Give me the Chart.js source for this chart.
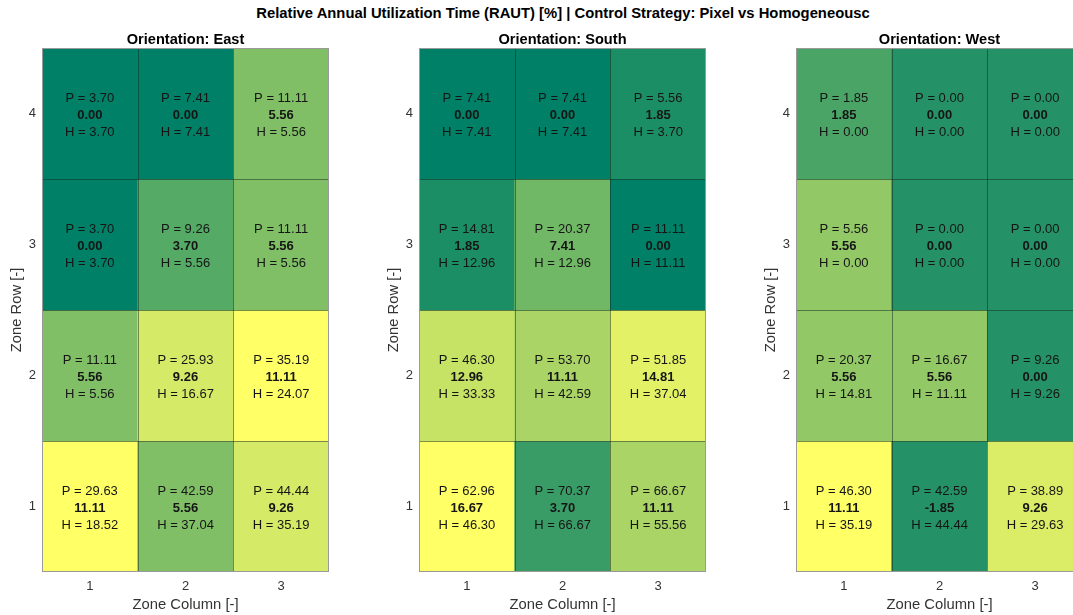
<!DOCTYPE html>
<html>
<head>
<meta charset="utf-8">
<script src="https://cdn.jsdelivr.net/npm/chart.js@4.4.1/dist/chart.umd.min.js"></script>
<style>
  html, body { margin: 0; padding: 0; background: #fff; overflow: hidden; width: 1073px; height: 615px; }
  #title { position: absolute; left: 0; top: 5px; width: 1126px; text-align: center;
           font: bold 14.8px "Liberation Sans", Arial, sans-serif; line-height: 17px; color: #000; }
  .panel { position: absolute; top: 0; }
</style>
</head>
<body>
<div id="title">Relative Annual Utilization Time (RAUT) [%] | Control Strategy: Pixel vs Homogeneousc</div>
<canvas id="panelEast" class="panel" style="left:0px" width="340" height="615"></canvas>
<canvas id="panelSouth" class="panel" style="left:377px" width="340" height="615"></canvas>
<canvas id="panelWest" class="panel" style="left:754px" width="340" height="615"></canvas>
<script>
// Zone grid: columns 1..3, rows listed top (4) to bottom (1)
const zoneColumns = ['1', '2', '3'];
const zoneRows = [4, 3, 2, 1];
const orientations = ['East', 'South', 'West'];

// RAUT [%] with pixel control (P), homogeneous control (H) and their difference
const eastP = [[3.70, 7.41, 11.11], [3.70, 9.26, 11.11], [11.11, 25.93, 35.19], [29.63, 42.59, 44.44]];
const eastD = [[0.00, 0.00, 5.56], [0.00, 3.70, 5.56], [5.56, 9.26, 11.11], [11.11, 5.56, 9.26]];
const eastH = [[3.70, 7.41, 5.56], [3.70, 5.56, 5.56], [5.56, 16.67, 24.07], [18.52, 37.04, 35.19]];

const southP = [[7.41, 7.41, 5.56], [14.81, 20.37, 11.11], [46.30, 53.70, 51.85], [62.96, 70.37, 66.67]];
const southD = [[0.00, 0.00, 1.85], [1.85, 7.41, 0.00], [12.96, 11.11, 14.81], [16.67, 3.70, 11.11]];
const southH = [[7.41, 7.41, 3.70], [12.96, 12.96, 11.11], [33.33, 42.59, 37.04], [46.30, 66.67, 55.56]];

const westP = [[1.85, 0.00, 0.00], [5.56, 0.00, 0.00], [20.37, 16.67, 9.26], [46.30, 42.59, 38.89]];
const westD = [[1.85, 0.00, 0.00], [5.56, 0.00, 0.00], [5.56, 5.56, 0.00], [11.11, -1.85, 9.26]];
const westH = [[0.00, 0.00, 0.00], [0.00, 0.00, 0.00], [14.81, 11.11, 9.26], [35.19, 44.44, 29.63]];

const panelData = {
  East: { P: eastP, D: eastD, H: eastH },
  South: { P: southP, D: southD, H: southH },
  West: { P: westP, D: westD, H: westH }
};

const FONT = '"Liberation Sans", Arial, Helvetica, sans-serif';

// "summer" colormap: dark green -> yellow
function summer(t) {
  t = Math.max(0, Math.min(1, t));
  return `rgb(${Math.round(255 * t)},${Math.round(255 * (0.5 + 0.5 * t))},102)`;
}

function cellColours(D) {
  const flat = D.flat();
  const lo = Math.min(...flat), hi = Math.max(...flat);
  return D.map(row => row.map(v => summer((Math.max(v, 0) - lo) / (hi - lo))));
}

// Draws cell separators, the axes box and the three-line cell annotations
const cellAnnotations = {
  id: 'cellAnnotations',
  afterDatasetsDraw(chart, args, opts) {
    const { ctx, chartArea: a, scales: { x, y } } = chart;
    const d = opts.data;
    ctx.save();
    // separators between cells
    ctx.strokeStyle = 'rgba(20,40,30,0.5)';
    ctx.lineWidth = 1;
    ctx.beginPath();
    for (let j = 0; j < zoneColumns.length - 1; j++) {
      const px = Math.round((x.getPixelForValue(j) + x.getPixelForValue(j + 1)) / 2) + 0.5;
      ctx.moveTo(px, a.top); ctx.lineTo(px, a.bottom);
    }
    for (let r = 1; r < zoneRows.length; r++) {
      const py = Math.round(y.getPixelForValue(r + 0.5)) + 0.5;
      ctx.moveTo(a.left, py); ctx.lineTo(a.right, py);
    }
    ctx.stroke();
    // axes box
    ctx.strokeStyle = '#9a9a9a';
    ctx.strokeRect(Math.round(a.left) + 0.5, Math.round(a.top) + 0.5,
                   Math.round(a.right - a.left) - 1, Math.round(a.bottom - a.top) - 1);
    // annotations
    ctx.fillStyle = '#151515';
    ctx.textAlign = 'center';
    ctx.textBaseline = 'middle';
    zoneRows.forEach((row, i) => {
      zoneColumns.forEach((col, j) => {
        const cx = x.getPixelForValue(j);
        const cy = y.getPixelForValue(row) + 2;
        ctx.font = `13px ${FONT}`;
        ctx.fillText(`P = ${d.P[i][j].toFixed(2)}`, cx, cy - 17);
        ctx.font = `bold 13px ${FONT}`;
        ctx.fillText(d.D[i][j].toFixed(2), cx, cy);
        ctx.font = `13px ${FONT}`;
        ctx.fillText(`H = ${d.H[i][j].toFixed(2)}`, cx, cy + 17);
      });
    });
    ctx.restore();
  }
};

function buildPanel(canvasId, orientation) {
  const d = panelData[orientation];
  const colours = cellColours(d.D);
  const datasets = zoneRows.map((row, i) => ({
    label: `Row ${row}`,
    data: zoneColumns.map(() => [row - 0.5, row + 0.5]),
    backgroundColor: colours[i],
    borderWidth: 0,
    grouped: false,
    categoryPercentage: 1,
    barPercentage: 1
  }));

  return new Chart(document.getElementById(canvasId), {
    type: 'bar',
    data: { labels: zoneColumns, datasets },
    plugins: [cellAnnotations],
    options: {
      responsive: false,
      devicePixelRatio: 1,
      animation: false,
      events: [],
      layout: { padding: { top: 32.7, right: 11, left: 0, bottom: 0 } },
      plugins: {
        legend: { display: false },
        tooltip: { enabled: false },
        title: {
          display: true,
          text: `Orientation: ${orientation}`,
          fullSize: false,
          color: '#000',
          font: { family: FONT, size: 14.6, weight: 'bold', lineHeight: 1.0 },
          padding: { top: 0, bottom: 0.7 }
        },
        cellAnnotations: { data: d }
      },
      scales: {
        x: {
          type: 'category',
          offset: true,
          grid: { display: false, drawTicks: false },
          border: { display: false },
          ticks: { color: '#333', padding: 7, font: { family: FONT, size: 13 } },
          title: {
            display: true,
            text: 'Zone Column [-]',
            color: '#333',
            font: { family: FONT, size: 14.8, lineHeight: 1.2 },
            padding: { top: 0, bottom: 1.2 }
          },
          afterFit(scale) { scale.height = 43; }
        },
        y: {
          type: 'linear',
          min: 0.5,
          max: 4.5,
          grid: { display: false, drawTicks: false },
          border: { display: false },
          ticks: { color: '#333', padding: 6, font: { family: FONT, size: 13 } },
          afterBuildTicks(scale) { scale.ticks = zoneRows.map(v => ({ value: v })); },
          title: {
            display: true,
            text: 'Zone Row [-]',
            color: '#333',
            font: { family: FONT, size: 14.8, lineHeight: 1.2 },
            padding: { top: 8, bottom: 0 }
          },
          afterFit(scale) { scale.width = 42; }
        }
      }
    }
  });
}

buildPanel('panelEast', 'East');
buildPanel('panelSouth', 'South');
buildPanel('panelWest', 'West');
</script>
</body>
</html>
